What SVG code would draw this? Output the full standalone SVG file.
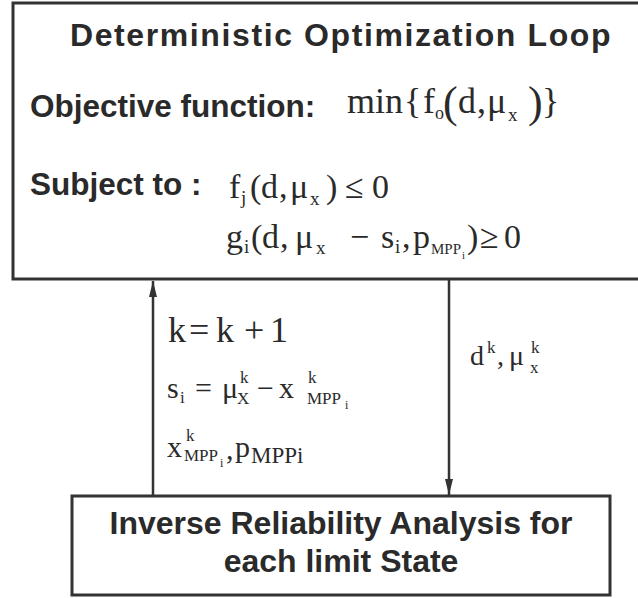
<svg xmlns="http://www.w3.org/2000/svg" width="638" height="598" viewBox="0 0 638 598">
<defs>
<style>
.box{fill:#fff;stroke:#333;stroke-width:3}
.lbl{font-family:"Liberation Sans",Arial,Helvetica,sans-serif;font-weight:bold;fill:#2a2a2a}
.m{font-family:"Liberation Serif","Times New Roman",serif;fill:#2a2a2a}
.conn{stroke:#333;stroke-width:2.5;fill:none}
</style>
<marker id="ah" viewBox="0 0 16 8" refX="16" refY="4" markerWidth="16" markerHeight="8" markerUnits="userSpaceOnUse" orient="auto">
<path d="M0,0 L16,4 L0,8 Z" fill="#333"/>
</marker>
</defs>
<rect width="638" height="598" fill="#fff"/>

<g id="node-optimization">
<rect class="box" x="13" y="3" width="640" height="276"/>
<text class="lbl" x="70" y="46" font-size="32" letter-spacing="1.6">Deterministic Optimization Loop</text>
<text class="lbl" x="30" y="117" font-size="31.5">Objective function:</text>
<text class="lbl" x="30" y="195" font-size="31.5">Subject to :</text>
<text class="m" font-size="36">
<tspan x="347" y="113">min</tspan><tspan x="404" y="113">{</tspan><tspan x="423" y="113">f</tspan><tspan x="435" y="119" font-size="18">o</tspan><tspan x="443" y="117" font-size="44">(</tspan><tspan x="458" y="113">d</tspan><tspan x="477" y="113">,</tspan><tspan x="487" y="113">μ</tspan><tspan x="508" y="121" font-size="19">x</tspan><tspan x="528" y="117" font-size="44">)</tspan><tspan x="542" y="113">}</tspan>
</text>
<text class="m" font-size="34">
<tspan x="229" y="198">f</tspan><tspan x="241" y="204" font-size="19">j</tspan><tspan x="250" y="198">(</tspan><tspan x="261" y="198">d</tspan><tspan x="279" y="198">,</tspan><tspan x="290" y="198">μ</tspan><tspan x="310" y="205" font-size="19">x</tspan><tspan x="326" y="198">)</tspan><tspan x="345" y="198">≤</tspan><tspan x="372" y="198">0</tspan>
</text>
<text class="m" font-size="34">
<tspan x="226" y="248">g</tspan><tspan x="244" y="253" font-size="19">i</tspan><tspan x="251" y="248">(</tspan><tspan x="262" y="248">d</tspan><tspan x="280" y="248">,</tspan><tspan x="295" y="248">μ</tspan><tspan x="316" y="254" font-size="19">x</tspan><tspan x="350" y="248">−</tspan><tspan x="381" y="248">s</tspan><tspan x="395" y="253" font-size="19">i</tspan><tspan x="402" y="248">,</tspan><tspan x="413" y="248">p</tspan><tspan x="431" y="254" font-size="15">MPP</tspan><tspan x="462" y="259" font-size="11">i</tspan><tspan x="467" y="248">)</tspan><tspan x="480" y="248">≥</tspan><tspan x="504" y="248">0</tspan>
</text>
</g>

<g id="node-reliability">
<rect class="box" x="72" y="496" width="538" height="99"/>
<text class="lbl" x="341" y="534" font-size="32" text-anchor="middle">Inverse Reliability Analysis for</text>
<text class="lbl" x="341" y="572" font-size="32" text-anchor="middle">each limit State</text>
</g>

<g id="connectors">
<line class="conn" x1="153" y1="496" x2="153" y2="281" marker-end="url(#ah)"/>
<line class="conn" x1="449" y1="280" x2="449" y2="495" marker-end="url(#ah)"/>
</g>

<g id="connector-labels">
<text class="m" font-size="36">
<tspan x="168" y="342">k</tspan><tspan x="189" y="342">=</tspan><tspan x="216" y="342">k</tspan><tspan x="244" y="342">+</tspan><tspan x="270" y="342">1</tspan>
</text>
<text class="m" font-size="30">
<tspan x="167" y="398">s</tspan><tspan x="180" y="403" font-size="17">i</tspan><tspan x="195" y="398">=</tspan><tspan x="222" y="398">μ</tspan><tspan x="240" y="383" font-size="17">k</tspan><tspan x="237" y="404" font-size="17">X</tspan><tspan x="257" y="398">−</tspan><tspan x="279" y="398">x</tspan><tspan x="308" y="383" font-size="17">k</tspan><tspan x="307" y="404" font-size="17">MPP</tspan><tspan x="345" y="409" font-size="12">i</tspan>
</text>
<text class="m" font-size="30">
<tspan x="167" y="457">x</tspan><tspan x="186" y="441" font-size="17">k</tspan><tspan x="184" y="461" font-size="17">MPP</tspan><tspan x="220" y="467" font-size="12">i</tspan><tspan x="226" y="459">,</tspan><tspan x="235" y="457">p</tspan><tspan x="251" y="463" font-size="23">MPPi</tspan>
</text>
<text class="m" font-size="28">
<tspan x="470" y="365">d</tspan><tspan x="487" y="353" font-size="17">k</tspan><tspan x="497" y="365">,</tspan><tspan x="509" y="365">μ</tspan><tspan x="531" y="353" font-size="17">k</tspan><tspan x="530" y="373" font-size="17">x</tspan>
</text>
</g>
</svg>
